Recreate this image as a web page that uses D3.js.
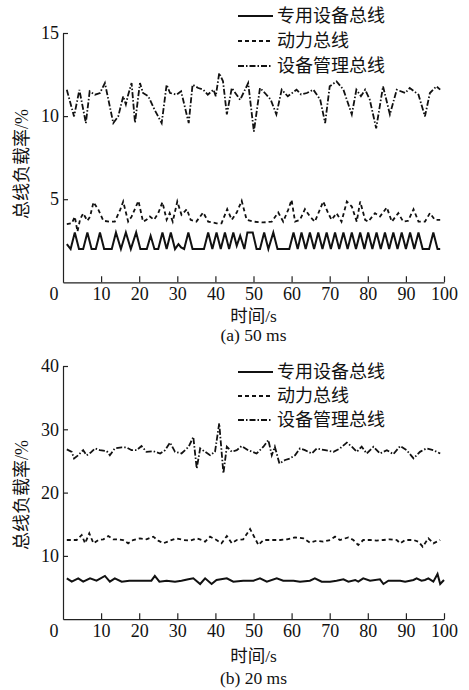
<!DOCTYPE html>
<html>
<head>
<meta charset="utf-8">
<script src="https://cdn.jsdelivr.net/npm/d3@7"></script>
<style>
	body { margin: 0; background: #fff; }
	svg { display: block; font-family: 'Liberation Serif', 'Times New Roman', 'Noto Sans CJK SC', serif; }
	.axis path, .axis line { stroke: #222; stroke-width: 1.2px; }
	.axis text { font-size: 18px; fill: #111; font-family: 'Liberation Serif', 'Times New Roman', serif; }
	.axis-label { font-size: 17.5px; fill: #111; }
	.legend-text { font-size: 18px; fill: #111; }
	.series { fill: none; stroke: #111; }
</style>
</head>
<body>
<svg id="chart"></svg>
<script>
// legend names, one per bus
const seriesNames = ['专用设备总线', '动力总线', '设备管理总线'];
const captions = ['(a) 50 ms', '(b) 20 ms'];

const xTicks = [10, 20, 30, 40, 50, 60, 70, 80, 90, 100];
const yTicksA = [5, 10, 15];
const yTicksB = [10, 20, 30, 40];

// (a) 50 ms  -- [time s, load %]
const dedicatedA = [[1,2.3],[2,2.0],[3.1,3.0],[4.2,2.0],[5.3,2.0],[6.4,3.0],[7.5,2.0],[8.6,2.0],[9.7,3.0],[10.8,2.0],[12.8,2.0],[13.9,3.0],[15.2,2.0],[16.5,3.0],[17.8,2.0],[19.2,3.0],[20.3,2.0],[22.0,2.0],[23.0,2.8],[24.0,2.0],[25.0,2.0],[26.1,3.0],[27.2,2.0],[28.3,3.0],[29.4,2.0],[30.3,2.3],[31.0,2.1],[31.8,2.0],[32.9,3.0],[34.0,2.0],[37.0,2.0],[38.1,3.0],[39.2,2.0],[40.3,3.0],[41.4,2.0],[42.5,3.0],[43.6,2.0],[44.7,3.0],[45.6,2.2],[46.5,2.8],[47.6,2.0],[48.4,3.0],[49.8,3.0],[50.8,2.0],[51.7,2.0],[52.8,3.0],[53.9,2.0],[55.2,3.0],[56.3,2.0],[59.4,2.0],[60.5,3.0],[61.6,2.0],[62.6,3.0],[63.7,2.0],[64.8,3.0],[65.9,2.0],[67.0,3.0],[68.1,2.0],[69.2,3.0],[70.3,2.0],[71.4,3.0],[72.5,2.0],[73.6,3.0],[74.7,2.0],[75.8,3.0],[76.9,2.0],[78.0,3.0],[79.1,2.0],[80.1,3.0],[81.2,2.0],[82.3,3.0],[83.4,2.0],[84.5,3.0],[85.6,2.0],[86.7,3.0],[87.8,2.0],[88.9,3.0],[90.0,2.0],[91.1,3.0],[92.2,2.0],[93.3,3.0],[94.4,2.0],[96.1,2.0],[97.2,3.0],[98.3,2.0],[99,2.0]];

const powerA = [[1,3.5],[2.3,3.55],[3.1,3.95],[3.8,3.05],[4.5,3.8],[5.3,4.15],[6.4,3.7],[7.1,3.95],[8.0,4.82],[9.3,4.36],[10.6,3.7],[12.3,3.65],[13.6,3.65],[15.0,4.36],[15.8,4.86],[17.1,3.65],[18.0,3.95],[19.8,4.9],[21.0,3.65],[21.9,3.76],[22.8,3.96],[23.9,3.76],[25.0,4.16],[26.1,4.82],[27.2,3.76],[28.0,4.16],[28.8,3.65],[30.0,4.86],[31.1,4.06],[32.5,4.4],[33.5,3.76],[35.0,3.65],[36.8,4.2],[38.1,3.65],[40.3,3.55],[41.6,3.55],[43.1,4.4],[44.3,3.76],[45.6,4.2],[46.9,4.9],[48.2,3.76],[50.0,3.65],[52.6,3.6],[54.8,3.65],[56.5,4.2],[57.8,3.65],[59.1,4.36],[60.0,4.96],[60.9,3.65],[62.2,3.76],[63.5,4.4],[64.8,3.96],[66.1,3.65],[68.3,4.86],[69.6,4.16],[70.5,3.76],[71.8,4.16],[73.1,3.65],[74.5,4.86],[75.8,4.56],[77.1,3.65],[78.0,4.86],[79.3,3.76],[80.1,3.65],[81.9,4.16],[83.2,3.96],[85.0,4.5],[86.3,3.65],[88.0,4.16],[89.3,3.65],[90.6,3.7],[92.0,4.4],[93.3,3.65],[95.0,3.65],[96.3,4.16],[97.6,3.76],[99,3.76]];

const managementA = [[1,11.58],[2.9,9.98],[4.3,11.58],[6.0,9.58],[7.0,11.49],[8.4,11.29],[9.7,11.39],[11.0,11.99],[13.2,9.58],[14.5,9.98],[15.8,11.19],[16.5,10.7],[17.0,11.19],[18.0,11.99],[18.9,9.6],[20.2,11.99],[21.0,11.39],[22.4,11.19],[24.0,10.4],[25.9,9.58],[27.2,11.89],[28.1,11.39],[29.8,11.29],[31.0,11.49],[33.0,9.58],[34.0,11.89],[35.5,11.69],[36.8,11.59],[38.0,11.29],[39.5,11.59],[40.1,11.19],[41.0,12.59],[42.0,12.09],[43.0,10.1],[44.3,11.69],[46.5,10.98],[48.6,11.99],[50.1,9.07],[51.7,11.69],[53.0,11.39],[54.5,11.0],[56.0,10.1],[57.4,11.59],[59.0,11.19],[61.3,11.59],[62.5,11.3],[64.0,11.39],[65.7,11.59],[67.5,11.0],[68.8,9.58],[70.0,11.79],[71.8,12.09],[73.6,11.59],[75.8,10.1],[77.0,11.59],[78.2,11.2],[79.3,11.59],[80.5,11.0],[82.2,9.27],[84.0,11.79],[85.8,10.1],[87.6,11.59],[89.8,11.39],[91.0,11.69],[93.3,11.29],[95.0,9.98],[96.3,11.39],[98.0,11.79],[99,11.59]];

// (b) 20 ms
const dedicatedB = [[1,6.46],[2.3,5.93],[4.0,6.46],[5.3,5.93],[7.1,6.46],[8.8,6.09],[11.0,6.83],[12.3,5.93],[13.6,6.46],[15.4,5.93],[17.4,6.09],[21.9,6.09],[23.2,6.09],[24.1,6.83],[25.3,5.93],[27.2,6.09],[29.4,5.93],[31.1,6.09],[32.9,6.3],[34.2,6.46],[36.0,5.56],[37.3,6.46],[39.0,5.56],[40.3,6.2],[43.0,6.46],[44.7,5.93],[47.3,6.09],[50.0,6.09],[51.7,6.46],[53.5,5.93],[56.1,6.46],[57.8,6.09],[60.5,6.09],[62.2,5.93],[64.8,6.09],[66.1,6.46],[67.9,5.93],[70.1,5.93],[71.8,6.09],[73.6,6.3],[74.9,5.93],[76.7,6.2],[77.5,5.93],[78.8,6.46],[80.6,6.09],[83.2,6.3],[84.1,5.56],[85.4,6.09],[88.5,6.09],[89.8,5.93],[92.0,6.2],[92.8,6.46],[94.1,6.09],[95.0,6.2],[95.9,6.46],[97.2,5.93],[98.3,7.14],[99.0,5.56],[100,6.2]];

const powerB = [[1,12.51],[3.6,12.51],[4.9,13.3],[5.8,11.99],[6.9,13.56],[8.0,11.99],[9.3,12.51],[10.6,12.62],[11.9,13.14],[13.2,12.62],[14.5,12.62],[15.8,12.51],[17.1,11.99],[18.4,12.51],[20.2,12.77],[21.9,12.62],[23.7,13.04],[25.0,12.41],[26.3,11.99],[28.1,12.41],[29.8,12.77],[31.6,12.51],[33.4,12.41],[35.1,12.77],[36.4,12.51],[37.3,12.25],[38.6,13.04],[40.3,12.51],[41.6,11.99],[43.0,13.14],[44.3,11.99],[45.6,12.51],[47.3,12.62],[49.1,14.24],[50.4,12.77],[51.3,11.72],[52.6,12.51],[54.4,12.51],[57.0,12.51],[58.8,12.62],[60.9,12.93],[63.1,12.77],[64.8,12.09],[66.6,12.41],[68.3,12.25],[70.1,12.51],[71.4,13.04],[72.7,12.51],[74.9,12.93],[76.2,12.51],[77.5,11.72],[78.8,12.51],[80.6,12.51],[82.3,12.41],[84.1,12.51],[85.8,12.62],[87.6,12.51],[88.5,11.99],[89.8,12.51],[92.0,12.51],[93.3,12.25],[94.4,11.46],[95.9,12.77],[97.2,11.99],[99,12.51]];

const managementB = [[1,26.82],[2.3,26.44],[2.9,25.4],[4.0,25.9],[5.3,26.7],[6.2,25.9],[7.2,26.28],[8.4,26.98],[9.7,26.7],[11.5,26.55],[12.3,25.9],[13.6,26.98],[15.4,27.14],[16.7,27.14],[18.0,26.7],[19.3,26.7],[20.6,27.36],[21.9,26.44],[23.7,26.55],[25.5,26.18],[26.8,26.7],[28.1,27.9],[29.4,26.44],[31.1,26.18],[33.0,27.25],[34.2,28.8],[35.1,23.8],[36.0,26.98],[37.3,26.44],[38.6,25.9],[39.9,26.44],[41.0,30.95],[42.1,23.04],[43.0,27.25],[44.3,26.44],[45.6,26.7],[46.9,27.36],[48.6,26.7],[50.8,26.18],[52.6,27.25],[53.9,28.3],[54.8,25.9],[55.6,27.25],[56.8,24.6],[58.3,25.15],[59.6,25.4],[60.9,25.9],[62.2,26.98],[63.5,26.7],[65.3,26.18],[66.6,26.98],[68.8,26.7],[71.0,26.44],[72.7,26.98],[74.5,27.9],[75.8,27.25],[77.1,26.44],[78.4,27.25],[79.7,26.18],[81.5,27.25],[83.2,26.18],[85.0,26.7],[86.7,26.07],[88.5,27.36],[90.2,26.7],[92.0,25.4],[93.7,26.44],[95.4,26.98],[97.2,26.7],[99,26.18]];

// line styles for the three buses
const dashes = [null, '4,3', '6,2,1.5,2'];

class BusLoadChart {

	constructor(_config, _data) {
		this.config = {
			svg: _config.svg,
			left: _config.left || 63,
			right: _config.right || 444,
			top: _config.top,
			bottom: _config.bottom,
			yMax: _config.yMax,
			yTicks: _config.yTicks,
			caption: _config.caption,
			legendTop: _config.legendTop,
			legendGap: _config.legendGap || 25,
			yLabelY: _config.yLabelY,
			xLabelDy: _config.xLabelDy,
			captionDy: _config.captionDy
		}
		this.data = _data;
		this.initVis();
	}

	initVis() {
		let vis = this;
		const c = vis.config;

		vis.xScale = d3.scaleLinear()
			.domain([0, 100])
			.range([c.left, c.right]);

		vis.yScale = d3.scaleLinear()
			.domain([0, c.yMax])
			.range([c.bottom, c.top]);

		vis.g = c.svg.append('g');

		// ticks point inwards, no outer ticks
		vis.xAxis = d3.axisBottom(vis.xScale)
			.tickValues(xTicks)
			.tickSizeInner(-6)
			.tickSizeOuter(0)
			.tickPadding(5)
			.tickFormat(d3.format('d'));

		vis.yAxis = d3.axisLeft(vis.yScale)
			.tickValues(c.yTicks)
			.tickSizeInner(-5)
			.tickSizeOuter(0)
			.tickPadding(4)
			.tickFormat(d3.format('d'));

		vis.g.append('g')
			.attr('class', 'axis x-axis')
			.attr('transform', `translate(0,${c.bottom})`)
			.call(vis.xAxis);

		vis.g.append('g')
			.attr('class', 'axis y-axis')
			.attr('transform', `translate(${c.left},0)`)
			.call(vis.yAxis);

		// shared zero in the corner
		vis.g.append('text')
			.attr('class', 'axis-label')
			.attr('x', vis.xScale(0) - 9)
			.attr('y', c.bottom + 12)
			.attr('dy', '0.33em')
			.attr('text-anchor', 'middle')
			.style('font-size', '18px')
			.text('0');

		vis.g.append('text')
			.attr('class', 'axis-label')
			.attr('x', (c.left + c.right) / 2)
			.attr('y', c.bottom + c.xLabelDy)
			.attr('dy', '0.35em')
			.attr('text-anchor', 'middle')
			.text('时间/s');

		vis.g.append('text')
			.attr('class', 'axis-label')
			.attr('x', (c.left + c.right) / 2)
			.attr('y', c.bottom + c.captionDy)
			.attr('dy', '0.35em')
			.attr('text-anchor', 'middle')
			.text(c.caption);

		vis.g.append('text')
			.attr('class', 'axis-label')
			.attr('text-anchor', 'middle')
			.attr('dy', '0.35em')
			.style('font-size', '18px')
			.attr('transform', `translate(21.5, ${c.yLabelY}) rotate(-90)`)
			.text('总线负载率/%');

		// legend, top right
		vis.legend = vis.g.append('g')
			.attr('transform', `translate(238, ${c.legendTop})`);

		seriesNames.forEach((name, i) => {
			vis.legend.append('line')
				.attr('class', 'series')
				.attr('x1', 0)
				.attr('x2', i == 0 ? 35 : 33)
				.attr('y1', i * c.legendGap)
				.attr('y2', i * c.legendGap)
				.attr('stroke-width', i == 0 ? 2 : 1.8)
				.attr('stroke-dasharray', dashes[i]);

			vis.legend.append('text')
				.attr('class', 'legend-text')
				.attr('x', 39)
				.attr('y', i * c.legendGap)
				.attr('dy', '0.36em')
				.text(name);
		});

		vis.renderVis();
	}

	renderVis() {
		let vis = this;

		const line = d3.line()
			.x(d => vis.xScale(d[0]))
			.y(d => vis.yScale(d[1]));

		vis.g.selectAll('.series-line')
			.data(vis.data)
			.join('path')
			.attr('class', 'series series-line')
			.attr('d', d => line(d))
			.attr('stroke-width', (d, i) => i == 0 ? 2 : 1.8)
			.attr('stroke-linejoin', 'miter')
			.attr('stroke-dasharray', (d, i) => dashes[i]);
	}
}

const svg = d3.select('#chart')
	.attr('width', 469)
	.attr('height', 690);

svg.append('rect')
	.attr('width', 469)
	.attr('height', 690)
	.attr('fill', '#fff');

new BusLoadChart({
	svg: svg,
	top: 33,
	bottom: 282.3,
	yMax: 15,
	yTicks: yTicksA,
	caption: captions[0],
	legendTop: 16,
	yLabelY: 164,
	xLabelDy: 33.5,
	captionDy: 53
}, [dedicatedA, powerA, managementA]);

new BusLoadChart({
	svg: svg,
	top: 366,
	bottom: 619.2,
	yMax: 40,
	yTicks: yTicksB,
	caption: captions[1],
	legendTop: 372,
	legendGap: 24,
	yLabelY: 495,
	xLabelDy: 36.6,
	captionDy: 58.8
}, [dedicatedB, powerB, managementB]);
</script>
</body>
</html>
